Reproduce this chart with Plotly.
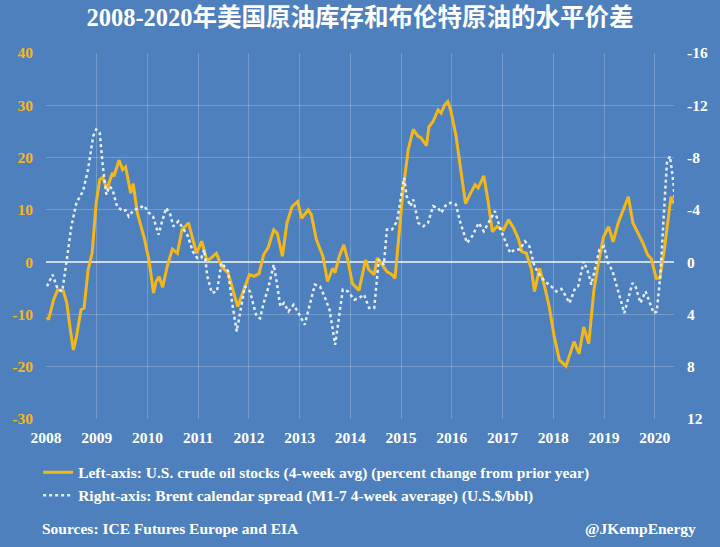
import plotly.graph_objects as go

# ---- data ----
stock_years = [
    2008.02, 2008.05, 2008.15, 2008.23, 2008.34, 2008.41, 2008.48, 2008.54, 2008.60, 2008.69,
    2008.75, 2008.83, 2008.91, 2008.99, 2009.06, 2009.12, 2009.20, 2009.31, 2009.34, 2009.44,
    2009.51, 2009.57, 2009.67, 2009.72, 2009.80, 2009.93, 2010.03, 2010.12, 2010.17, 2010.23,
    2010.30, 2010.39, 2010.49, 2010.59, 2010.68, 2010.81, 2010.88, 2010.97, 2011.07, 2011.17,
    2011.23, 2011.36, 2011.46, 2011.59, 2011.78, 2011.88, 2012.01, 2012.10, 2012.20, 2012.29,
    2012.38, 2012.49, 2012.56, 2012.66, 2012.75, 2012.85, 2012.96, 2013.04, 2013.17, 2013.23,
    2013.33, 2013.46, 2013.55, 2013.65, 2013.70, 2013.78, 2013.87, 2013.95, 2014.04, 2014.17,
    2014.23, 2014.30, 2014.36, 2014.47, 2014.53, 2014.63, 2014.72, 2014.82, 2014.88, 2014.95,
    2015.04, 2015.14, 2015.24, 2015.33, 2015.39, 2015.50, 2015.55, 2015.63, 2015.73, 2015.79,
    2015.86, 2015.92, 2015.98, 2016.08, 2016.17, 2016.27, 2016.37, 2016.46, 2016.52, 2016.63,
    2016.71, 2016.80, 2016.89, 2017.02, 2017.12, 2017.22, 2017.31, 2017.38, 2017.47, 2017.57,
    2017.63, 2017.73, 2017.83, 2017.92, 2018.02, 2018.12, 2018.25, 2018.33, 2018.41, 2018.51,
    2018.60, 2018.70, 2018.80, 2018.89, 2018.99, 2019.09, 2019.18, 2019.28, 2019.38, 2019.48,
    2019.57, 2019.67, 2019.77, 2019.86, 2019.93, 2020.03, 2020.10, 2020.19, 2020.26, 2020.32,
    2020.37,
]
stock_pct = [
    -10.5, -11.0, -7.2, -5.3, -5.5, -7.8, -13.0, -16.8, -14.3, -9.1,
    -8.8, -1.5, 1.8, 11.4, 15.8, 16.2, 13.9, 17.1, 16.4, 19.5,
    17.7, 18.2, 13.2, 15.0, 9.4, 4.9, 0.4, -5.9, -3.7, -2.8,
    -4.8, -0.8, 2.5, 1.7, 6.2, 7.5, 4.9, 1.7, 4.0, 0.4,
    0.6, 1.7, -0.8, -2.1, -8.5, -5.9, -2.4, -2.7, -2.2, 1.4,
    2.8, 6.2, 5.5, 1.1, 7.5, 10.6, 11.6, 8.4, 10.0, 9.1,
    4.3, 1.1, -3.7, -1.2, -2.0, 1.1, 3.3, 0.4, -4.1, -5.4,
    -2.8, 0.4, -1.4, -2.4, 0.8, -0.5, -1.8, -2.4, -3.1, 4.3,
    13.9, 21.5, 25.4, 24.1, 23.8, 22.3, 25.9, 26.9, 29.1, 28.5,
    30.1, 30.7, 29.0, 24.3, 17.7, 11.2, 13.2, 14.8, 14.2, 16.5,
    12.0, 5.8, 6.8, 6.2, 8.1, 6.5, 4.5, 2.0, 1.7, -1.4,
    -5.6, -1.2, -4.7, -8.5, -14.3, -18.7, -19.9, -17.5, -15.2, -17.5,
    -12.4, -15.6, -5.4, -0.2, 4.8, 6.8, 3.9, 7.5, 10.0, 12.5,
    7.5, 5.5, 3.6, 1.4, 0.7, -3.1, -3.1, 2.4, 7.5, 12.5,
    11.2,
]

spread_years = [
    2008.02, 2008.13, 2008.23, 2008.32, 2008.41, 2008.50, 2008.60, 2008.66, 2008.73, 2008.83,
    2008.93, 2008.99, 2009.06, 2009.12, 2009.19, 2009.25, 2009.31, 2009.40, 2009.51, 2009.57,
    2009.63, 2009.73, 2009.83, 2009.93, 2010.03, 2010.11, 2010.22, 2010.28, 2010.37, 2010.45,
    2010.51, 2010.61, 2010.70, 2010.80, 2010.89, 2010.98, 2011.06, 2011.12, 2011.18, 2011.27,
    2011.37, 2011.46, 2011.59, 2011.67, 2011.76, 2011.83, 2011.92, 2012.02, 2012.15, 2012.22,
    2012.29, 2012.39, 2012.49, 2012.55, 2012.62, 2012.69, 2012.78, 2012.88, 2012.98, 2013.10,
    2013.20, 2013.30, 2013.40, 2013.49, 2013.59, 2013.66, 2013.70, 2013.76, 2013.85, 2013.95,
    2014.08, 2014.17, 2014.27, 2014.37, 2014.47, 2014.56, 2014.66, 2014.72, 2014.82, 2014.92,
    2015.02, 2015.06, 2015.11, 2015.18, 2015.24, 2015.34, 2015.44, 2015.53, 2015.63, 2015.73,
    2015.79, 2015.89, 2015.98, 2016.08, 2016.17, 2016.30, 2016.40, 2016.53, 2016.63, 2016.72,
    2016.85, 2016.95, 2017.05, 2017.15, 2017.24, 2017.34, 2017.44, 2017.53, 2017.63, 2017.73,
    2017.83, 2017.96, 2018.06, 2018.16, 2018.23, 2018.32, 2018.42, 2018.49, 2018.60, 2018.68,
    2018.75, 2018.85, 2018.91, 2019.00, 2019.08, 2019.17, 2019.27, 2019.40, 2019.49, 2019.56,
    2019.62, 2019.72, 2019.82, 2019.90, 2019.98, 2020.04, 2020.11, 2020.17, 2020.24, 2020.30,
    2020.37, 2020.40,
]
brent_spread = [
    1.85, 0.96, 2.05, 2.24, -0.19, -2.74, -4.54, -4.92, -5.43, -7.10,
    -9.64, -10.15, -9.90, -7.34, -5.17, -5.80, -5.56, -4.28, -3.90, -3.97,
    -3.50, -4.00, -4.10, -4.33, -3.77, -3.50, -2.10, -3.00, -4.15, -3.64,
    -2.74, -3.13, -2.62, -1.98, -0.83, -0.32, -0.32, -0.96, 1.09, 2.36,
    2.24, 0.06, 0.70, 3.13, 5.30, 3.64, 1.85, 2.24, 4.15, 4.30,
    3.13, 1.85, 0.19, 1.60, 3.39, 3.13, 3.77, 3.26, 3.90, 4.79,
    3.13, 1.72, 1.85, 2.62, 3.64, 5.43, 6.32, 4.66, 2.10, 2.24,
    2.87, 2.74, 2.49, 3.51, 3.51, -0.19, 0.19, -2.49, -2.49, -3.13,
    -5.56, -6.45, -5.04, -4.28, -4.79, -3.00, -2.74, -3.00, -4.28, -4.15,
    -3.77, -4.41, -4.54, -4.41, -3.00, -1.47, -1.98, -3.00, -2.36, -3.00,
    -3.90, -2.60, -1.72, -0.70, -0.96, -0.96, -1.60, -1.21, 0.32, 0.96,
    1.47, 1.85, 2.24, 2.05, 2.49, 3.13, 2.10, 1.85, -0.06, 0.70,
    1.72, 0.06, -0.96, -1.21, 0.06, 0.70, 2.10, 3.90, 2.62, 1.60,
    1.85, 3.13, 2.24, 3.13, 3.90, 3.77, 1.09, -3.00, -7.60, -8.10,
    -6.07, -4.54,
]

left_ticks = [-30, -20, -10, 0, 10, 20, 30, 40]
left_tick_labels = ["-30", "-20", "-10", "0", "10", "20", "30", "40"]
right_ticks = [-16, -12, -8, -4, 0, 4, 8, 12]
right_tick_labels = ["-16", "-12", "-8", "-4", "0", "4", "8", "12"]
year_ticks = list(range(2008, 2021))
year_labels = [str(y) for y in year_ticks]

stock_name = "Left-axis: U.S. crude oil stocks (4-week avg) (percent change from prior year)"
spread_name = "Right-axis: Brent calendar spread (M1-7 4-week average) (U.S.$/bbl)"
title_text = "2008-2020年美国原油库存和布伦特原油的水平价差"

# ---- styling ----
BG = "#4E80BD"
GOLD = "#F4B719"
WHITE_DOT = "#E4ECF6"
GRID = "rgba(255,255,255,0.22)"
SERIF = "Liberation Serif, Noto Sans CJK SC, serif"
FS = 15.5

fig = go.Figure()
fig.add_trace(go.Scatter(
    x=stock_years, y=stock_pct, mode="lines", name=stock_name,
    line=dict(color=GOLD, width=3), legendgroup="a", yaxis="y",
))
fig.add_trace(go.Scatter(
    x=spread_years, y=brent_spread, mode="lines", name=spread_name,
    line=dict(color=WHITE_DOT, width=2.5, dash="3px,3px"), legendgroup="b", yaxis="y2",
))

fig.update_layout(
    width=720, height=547,
    paper_bgcolor=BG, plot_bgcolor=BG,
    margin=dict(l=44, r=39, t=53, b=128),
    title=dict(text=title_text, x=0.5, xanchor="center", y=1 - 17 / 547, yanchor="middle",
               yref="container",
               font=dict(family=SERIF, size=24.5, color="white", weight="bold")),
    xaxis=dict(range=[2008, 2020.38], tickvals=year_ticks, ticktext=year_labels,
               showgrid=True, gridcolor=GRID, gridwidth=1, zeroline=False,
               showline=False, ticks="", ticklabelstandoff=7,
               tickfont=dict(family=SERIF, size=FS, color="white", weight="bold")),
    yaxis=dict(range=[-30, 40], tickvals=left_ticks, ticktext=left_tick_labels,
               showgrid=True, gridcolor=GRID, gridwidth=1,
               zeroline=True, zerolinecolor="rgba(255,255,255,0.7)", zerolinewidth=1.5,
               showline=False, ticks="", ticklabelstandoff=12,
               tickfont=dict(family=SERIF, size=FS, color=GOLD, weight="bold")),
    yaxis2=dict(range=[12, -16], tickvals=right_ticks, ticktext=right_tick_labels,
                overlaying="y", side="right", showgrid=False, zeroline=False,
                showline=False, ticks="", ticklabelstandoff=12,
                tickfont=dict(family=SERIF, size=FS, color="white", weight="bold")),
    showlegend=True,
    legend=dict(x=-0.0125, xanchor="left", y=-0.1, yanchor="top",
                orientation="v", traceorder="grouped", tracegroupgap=0,
                bgcolor="rgba(0,0,0,0)", borderwidth=0, itemwidth=30,
                font=dict(family=SERIF, size=FS, color="white", weight="bold")),
    annotations=[
        dict(text="Sources: ICE Futures Europe and EIA", xref="paper", yref="paper",
             x=-0.0095, y=-(528 - 419) / 366, xanchor="left", yanchor="middle", showarrow=False,
             font=dict(family=SERIF, size=FS, color="white", weight="bold")),
        dict(text="@JKempEnergy", xref="paper", yref="paper",
             x=(705 - 44) / 637, y=-(528 - 419) / 366, xanchor="right", yanchor="middle", showarrow=False,
             font=dict(family=SERIF, size=FS, color="white", weight="bold")),
    ],
)

fig.write_html(
    "out.html",
    config={"displayModeBar": False},
    post_script="document.body.style.margin='0';document.body.style.background='" + BG + "';",
)
